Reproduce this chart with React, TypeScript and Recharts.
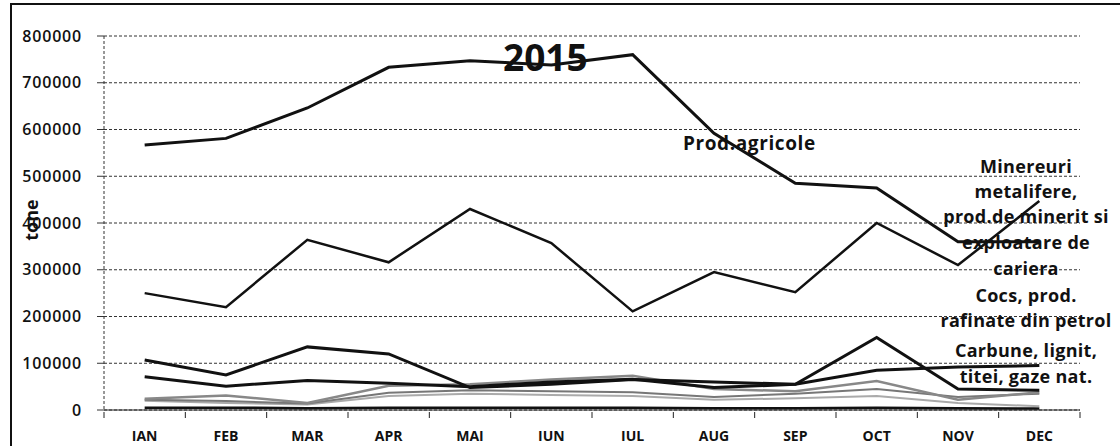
import { LineChart, Line, XAxis, YAxis, CartesianGrid } from 'recharts';

const months = ['IAN', 'FEB', 'MAR', 'APR', 'MAI', 'IUN', 'IUL', 'AUG', 'SEP', 'OCT', 'NOV', 'DEC'];
const yTicks = [0, 100000, 200000, 300000, 400000, 500000, 600000, 700000, 800000];

const prodAgricole = [567000, 581000, 646000, 733000, 747000, 738000, 760000, 592000, 485000, 475000, 360000, 360000];
const minereuri = [250000, 220000, 364000, 316000, 430000, 357000, 211000, 295000, 252000, 400000, 310000, 447000];
const cocs = [107000, 75000, 135000, 120000, 48000, 55000, 65000, 60000, 55000, 155000, 45000, 42000];
const carbune = [71000, 51000, 63000, 57000, 50000, 60000, 66000, 48000, 55000, 85000, 92000, 95000];
const alte1 = [24000, 31000, 15000, 52000, 55000, 65000, 73000, 45000, 40000, 62000, 22000, 38000];
const alte2 = [22000, 19000, 14000, 37000, 42000, 40000, 38000, 28000, 35000, 45000, 28000, 35000];
const alte3 = [20000, 15000, 12000, 30000, 35000, 32000, 30000, 22000, 25000, 30000, 15000, 8000];
const alte4 = [5000, 5000, 4000, 5000, 5000, 5000, 5000, 4000, 4000, 5000, 4000, 3000];

// right-hand annotation lines: [text, centre y]
const rightLabels: [string, number][] = [
  ['Minereuri', 166],
  ['metalifere,', 191],
  ['prod.de minerit si', 216],
  ['exploatare de', 242],
  ['cariera', 268],
  ['Cocs, prod.', 295],
  ['rafinate din petrol', 320],
  ['Carbune, lignit,', 350],
  ['titei, gaze nat.', 376],
];

const data = months.map((m, i) => ({
  month: m,
  prodAgricole: prodAgricole[i],
  minereuri: minereuri[i],
  cocs: cocs[i],
  carbune: carbune[i],
  alte1: alte1[i],
  alte2: alte2[i],
  alte3: alte3[i],
  alte4: alte4[i],
}));

// plot is 976px wide, 12 bands
const HALF_BAND = 976 / 12 / 2;

function MonthTick(props: any) {
  const { x, y, payload, index } = props;
  return (
    <g>
      <line x1={x - HALF_BAND} x2={x - HALF_BAND} y1={y} y2={y + 6} stroke="#222" />
      {index === months.length - 1 && (
        <line x1={x + HALF_BAND} x2={x + HALF_BAND} y1={y} y2={y + 6} stroke="#222" />
      )}
      <text x={x} y={y + 29} textAnchor="middle" fontSize={14} fontWeight={700} fill="#111">
        {payload.value}
      </text>
    </g>
  );
}

export default function App() {
  return (
    <div
      style={{
        position: 'absolute',
        left: 0,
        top: 0,
        width: 1120,
        height: 446,
        overflow: 'hidden',
        background: '#fff',
        fontFamily: '"Open Sans", sans-serif',
      }}
    >
      <div style={{ position: 'absolute', left: 10, top: 3, width: 1110, height: 443, borderLeft: '2px solid #111', borderTop: '2px solid #111' }} />
      <LineChart width={1120} height={446} data={data} margin={{ top: 36, right: 40, bottom: 0, left: 0 }}>
        <CartesianGrid vertical={false} stroke="#333" strokeDasharray="3 2" />
        <XAxis
          dataKey="month"
          height={36}
          padding={{ left: HALF_BAND, right: HALF_BAND }}
          axisLine={{ stroke: '#222' }}
          tickLine={false}
          tickSize={0}
          interval={0}
          tick={<MonthTick />}
        />
        <YAxis
          width={104}
          domain={[0, 800000]}
          ticks={yTicks}
          interval={0}
          axisLine={{ stroke: '#333', strokeDasharray: '3 2' }}
          tickLine={{ stroke: '#333' }}
          tickSize={7}
          tickMargin={15}
          tick={{ fontSize: 16, fontWeight: 600, fill: '#111', letterSpacing: 0.8 }}
        />
        <Line dataKey="alte4" stroke="#111" strokeWidth={2.5} dot={false} isAnimationActive={false} />
        <Line dataKey="alte3" stroke="#aaa" strokeWidth={2} dot={false} isAnimationActive={false} />
        <Line dataKey="alte2" stroke="#777" strokeWidth={2} dot={false} isAnimationActive={false} />
        <Line dataKey="alte1" stroke="#888" strokeWidth={2.5} dot={false} isAnimationActive={false} />
        <Line dataKey="carbune" stroke="#111" strokeWidth={3} dot={false} isAnimationActive={false} />
        <Line dataKey="cocs" stroke="#111" strokeWidth={3} dot={false} isAnimationActive={false} />
        <Line dataKey="minereuri" stroke="#111" strokeWidth={2.5} dot={false} isAnimationActive={false} />
        <Line dataKey="prodAgricole" stroke="#111" strokeWidth={3} dot={false} isAnimationActive={false} />
      </LineChart>

      <div style={{ position: 'absolute', left: 503, top: 35, fontSize: 37, fontWeight: 700, color: '#111', lineHeight: '44px' }}>
        2015
      </div>
      <div
        style={{
          position: 'absolute',
          left: 10,
          top: 208,
          fontSize: 18,
          fontWeight: 700,
          color: '#111',
          transform: 'rotate(-90deg)',
          transformOrigin: 'center',
        }}
      >
        tone
      </div>
      <div
        style={{
          position: 'absolute',
          left: 683,
          top: 133,
          fontSize: 19,
          fontWeight: 700,
          letterSpacing: 0.6,
          lineHeight: '20px',
          color: '#111',
          whiteSpace: 'nowrap',
        }}
      >
        Prod.agricole
      </div>
      {rightLabels.map(([text, cy]) => (
        <div
          key={text}
          style={{
            position: 'absolute',
            left: 926,
            width: 200,
            top: cy - 10,
            fontSize: 18,
            fontWeight: 700,
            letterSpacing: 0.3,
            lineHeight: '20px',
            textAlign: 'center',
            color: '#111',
            whiteSpace: 'nowrap',
          }}
        >
          {text}
        </div>
      ))}
    </div>
  );
}
